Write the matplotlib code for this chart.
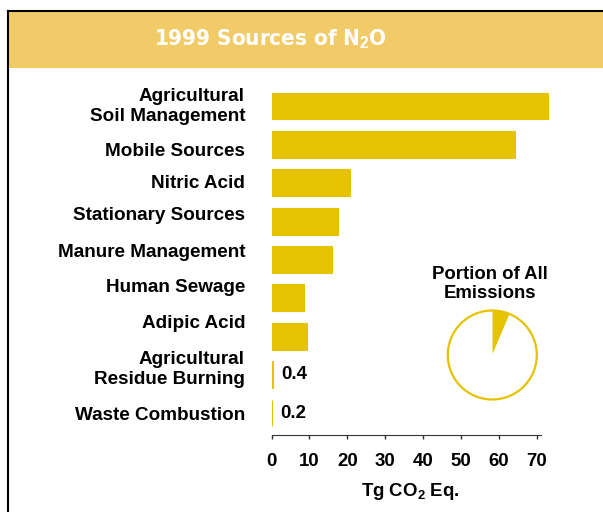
"""Recreate the 1999 Sources of N2O bar chart with a small pie inset."""

import matplotlib
matplotlib.use("Agg")
import matplotlib.pyplot as plt
from matplotlib import font_manager
from matplotlib.patches import Rectangle, Circle
from matplotlib.lines import Line2D


# Section: chart data.
CATEGORIES = [
    "Agricultural\nSoil Management",
    "Mobile Sources",
    "Nitric Acid",
    "Stationary Sources",
    "Manure Management",
    "Human Sewage",
    "Adipic Acid",
    "Agricultural\nResidue Burning",
    "Waste Combustion",
]
VALUES = [73.0, 64.3, 20.7, 17.5, 16.0, 8.6, 9.4, 0.4, 0.2]
SMALL_LABELS = {7: "0.4", 8: "0.2"}
X_TICKS = [0, 10, 20, 30, 40, 50, 60, 70]
PIE_SHARE = [6.4, 93.6]

# Section: layout (pixel rows of the category labels, which sit on their own grid).
LABEL_Y_PX = [104.5, 150, 181.7, 214, 250.7, 286, 321.7, 367.5, 414]

BAR_COLOR = "#E6C300"
HEADER_COLOR = "#F2CB69"

plt.rcParams["font.family"] = ["Liberation Sans", "DejaVu Sans"]
plt.rcParams["font.weight"] = "bold"
plt.rcParams["mathtext.fontset"] = "custom"
plt.rcParams["mathtext.rm"] = "Liberation Sans:bold"
plt.rcParams["mathtext.default"] = "rm"

installed = {f.name for f in font_manager.fontManager.ttflist}
if "Liberation Sans Narrow" in installed:
    title_font = {"family": "Liberation Sans Narrow", "fontsize": 18}
else:
    title_font = {"family": "DejaVu Sans", "fontstretch": "condensed", "fontsize": 16}

W, H = 603, 512
fig = plt.figure(figsize=(W / 100, H / 100), dpi=100)


def fx(px):
    return px / W


def fy(py):
    return 1 - py / H


# Section: frame and header band.
fig.patches.append(Rectangle((fx(8), fy(68)), 1 - fx(8), fy(11) - fy(68),
                             transform=fig.transFigure, facecolor=HEADER_COLOR,
                             edgecolor="none", zorder=0))
fig.lines.append(Line2D([fx(8), fx(8)], [fy(11), 0], transform=fig.transFigure,
                        color="black", linewidth=1.5))
fig.lines.append(Line2D([fx(8), 1], [fy(11), fy(11)], transform=fig.transFigure,
                        color="black", linewidth=1.5))
fig.text(fx(270), fy(39.5), "1999 Sources of N$_2$O", ha="center", va="center",
         color="white", fontweight="bold", **title_font)

# Section: horizontal bar chart.
ax = fig.add_axes([fx(271.5), fy(435), fx(278.5), 350 / H])
positions = list(range(len(CATEGORIES)))
ax.barh(positions, VALUES, height=0.7, color=BAR_COLOR, edgecolor=BAR_COLOR,
        linewidth=0.8)
ax.set_xlim(0, 73.5)
ax.set_ylim(8.573, -0.547)
ax.set_yticks([])
ax.set_xticks(X_TICKS)
ax.set_xticklabels([str(t) for t in X_TICKS], fontsize=13.4, fontweight="bold")
ax.tick_params(axis="x", length=3, width=1, pad=10, color="#333333")
for side in ("top", "right", "left"):
    ax.spines[side].set_visible(False)
ax.spines["bottom"].set_bounds(0, 71)
ax.spines["bottom"].set_color("#333333")
ax.set_xlabel("Tg CO$_2$ Eq.", fontsize=13.4, fontweight="bold", labelpad=8)
for idx, text in SMALL_LABELS.items():
    ax.text(VALUES[idx] + 2.2, idx, text, va="center", ha="left",
            fontsize=13.4, fontweight="bold")

# Category labels, right aligned next to the bars.
for name, py in zip(CATEGORIES, LABEL_Y_PX):
    fig.text(fx(245), fy(py + 1.9), name, ha="right", va="center",
             fontsize=13.6, fontweight="bold", linespacing=1.2)

# Section: pie inset showing N2O share of all emissions.
r = 44.5
pax = fig.add_axes([fx(492.3 - r * 1.05), fy(355 + r * 1.05),
                    fx(2 * r * 1.05), 2 * r * 1.05 / H])
pax.pie(PIE_SHARE, colors=[BAR_COLOR, "white"], startangle=90,
        counterclock=False, radius=1, wedgeprops={"linewidth": 0})
pax.add_patch(Circle((0, 0), 1, facecolor="none", edgecolor=BAR_COLOR, linewidth=1.6))
pax.set_xlim(-1.05, 1.05)
pax.set_ylim(-1.05, 1.05)
pax.set_aspect("equal")
pax.axis("off")
fig.text(fx(490), fy(284), "Portion of All\nEmissions", ha="center", va="center",
         fontsize=13.4, fontweight="bold", linespacing=1.15)

fig.savefig("out.png", dpi=100)
